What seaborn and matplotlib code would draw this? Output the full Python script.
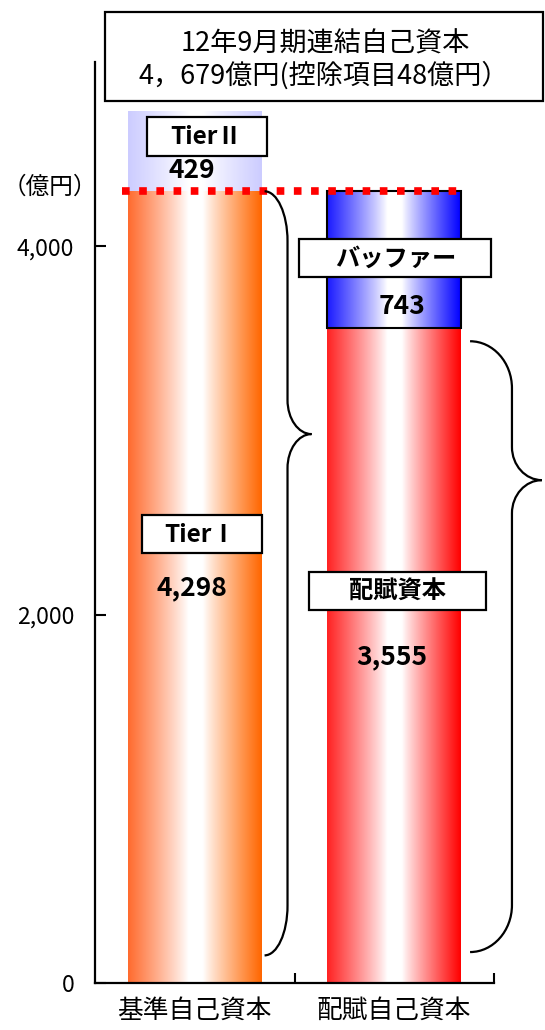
import numpy as np
import pandas as pd
import matplotlib
matplotlib.use("Agg")
import matplotlib.pyplot as plt
import seaborn as sns
from matplotlib.patches import Rectangle, PathPatch
from matplotlib.path import Path

# ---- data ---------------------------------------------------------------
categories = ["基準自己資本", "配賦自己資本"]
base_values = [4298, 3555]          # TierⅠ / 配賦資本
top_values = [429, 743]             # TierⅡ / バッファー
base_names = ["TierⅠ", "配賦資本"]
top_names = ["TierⅡ", "バッファー"]
y_ticks = [0, 2000, 4000]
title_lines = ["12年9月期連結自己資本", "4，679億円(控除項目48億円）"]
unit_label = "（億円）"

# ---- style --------------------------------------------------------------
sns.set_style("white")
plt.rcParams["font.family"] = ["Noto Sans CJK JP", "DejaVu Sans"]
plt.rcParams["text.color"] = "black"
plt.rcParams["xtick.color"] = "black"
plt.rcParams["ytick.color"] = "black"

W, H = 545, 1030
fig = plt.figure(figsize=(W / 100, H / 100), dpi=100)
ax = fig.add_axes([95 / W, 47 / H, (494 - 95) / W, (983 - 62) / H])


def fx(x):
    return x / W


def fy(y):
    return 1 - y / H


df = pd.DataFrame({"category": categories, "base": base_values, "top": top_values})

sns.barplot(data=df, x="category", y="base", width=0.67, errorbar=None,
            color="white", linewidth=0, ax=ax)
sns.barplot(data=df, x="category", y="top", bottom=df["base"].to_numpy(),
            width=0.67, errorbar=None, color="white", linewidth=0, ax=ax)

# horizontal gradients: edge colour -> white core -> edge colour
edge_colors = [
    ("#ff6b2e", "#ff6600"),   # TierⅠ
    ("#ff2222", "#ff0000"),   # 配賦資本
    ("#ccccff", "#ccccff"),   # TierⅡ
    ("#1a1aff", "#0000ff"),   # バッファー
]


def gradient(left, right, n=256):
    u = np.linspace(0, 1, n)
    wl = np.clip((0.45 - u) / 0.45, 0, 1) ** 0.9
    wr = np.clip((u - 0.56) / 0.44, 0, 1) ** 0.9
    cl = np.array(matplotlib.colors.to_rgb(left))
    cr = np.array(matplotlib.colors.to_rgb(right))
    img = np.ones((n, 3))
    img = img * (1 - wl - wr)[:, None] + wl[:, None] * cl + wr[:, None] * cr
    return img[None, :, :]


for patch, (cl, cr) in zip(ax.patches, edge_colors):
    x0, y0 = patch.get_x(), patch.get_y()
    w, h = patch.get_width(), patch.get_height()
    ax.imshow(gradient(cl, cr), extent=(x0, x0 + w, y0, y0 + h),
              aspect="auto", interpolation="bilinear", zorder=0.5)
    patch.set_facecolor("none")
    patch.set_edgecolor("none")

# outline around the buffer segment
ax.patches[3].set_edgecolor("black")
ax.patches[3].set_linewidth(1.5)

# dotted level of TierⅠ across both bars
ax.hlines(base_values[0], -0.365, 1.345, colors="#ff0000", linewidth=5.5,
          linestyles=(0, (1.0, 1.25)), zorder=3)


def brace(x0, x1, x2, ytop, ytip, ybot, r, rt):
    k = 0.55
    verts = [
        (x0, ytop),
        (x0 + k * (x1 - x0), ytop), (x1, ytop - (1 - k) * r), (x1, ytop - r),
        (x1, ytip + rt),
        (x1, ytip + rt * (1 - k)), (x2 - k * (x2 - x1), ytip), (x2, ytip),
        (x2 - k * (x2 - x1), ytip), (x1, ytip - rt * (1 - k)), (x1, ytip - rt),
        (x1, ybot + r),
        (x1, ybot + (1 - k) * r), (x0 + k * (x1 - x0), ybot), (x0, ybot),
    ]
    codes = [Path.MOVETO,
             Path.CURVE4, Path.CURVE4, Path.CURVE4,
             Path.LINETO,
             Path.CURVE4, Path.CURVE4, Path.CURVE4,
             Path.CURVE4, Path.CURVE4, Path.CURVE4,
             Path.LINETO,
             Path.CURVE4, Path.CURVE4, Path.CURVE4]
    ax.add_patch(PathPatch(Path(verts, codes), fc="none", ec="black",
                           lw=1.6, clip_on=False, zorder=4))


brace(0.35, 0.465, 0.585, base_values[0], 2980, 150, 270, 185)
brace(1.38, 1.59, 1.74, 3484, 2730, 168, 255, 180)

# axes
ax.set_xlim(-0.5, 1.5)
ax.set_ylim(0, 5000)
ax.set_xlabel("")
ax.set_ylabel("")
ax.set_yticks(y_ticks)
ax.set_yticklabels([f"{v:,}" for v in y_ticks])
ax.set_xticks([0, 1])
ax.set_xticklabels(categories)
ax.set_xticks([0.5, 1.5], minor=True)
ax.tick_params(axis="y", direction="in", length=8, width=1.5, pad=15,
               labelsize=16.5, left=True)
ax.tick_params(axis="x", which="major", length=0, pad=11, labelsize=18.5)
ax.tick_params(axis="x", which="minor", direction="in", length=7, width=1.5,
               bottom=True)
for side in ("top", "right"):
    ax.spines[side].set_visible(False)
for side in ("left", "bottom"):
    ax.spines[side].set_color("black")
    ax.spines[side].set_linewidth(1.6)

# title box
fig.add_artist(Rectangle((fx(105), fy(101)), (543 - 105) / W, (101 - 12) / H,
                         transform=fig.transFigure, fc="white", ec="black",
                         lw=1.6, zorder=5))
fig.text(fx(325), fy(44), title_lines[0], ha="center", va="center",
         fontsize=19.5, zorder=6)
fig.text(fx(324), fy(75), title_lines[1], ha="center", va="center",
         fontsize=19.5, zorder=6)

fig.text(fx(50), fy(187), unit_label, ha="center", va="center", fontsize=17)


def label_box(x0, y0, x1, y1, text, tx, ty, size=17.5):
    fig.add_artist(Rectangle((fx(x0), fy(y1)), (x1 - x0) / W, (y1 - y0) / H,
                             transform=fig.transFigure, fc="white", ec="black",
                             lw=1.6, zorder=5))
    fig.text(fx(tx), fy(ty), text, ha="center", va="center", fontsize=size,
             fontweight="bold", zorder=6)


label_box(147, 117, 267, 156, top_names[0], 206, 137)
label_box(142, 515, 262, 553, base_names[0], 200, 535)
label_box(309, 572, 486, 610, base_names[1], 397, 592)
label_box(299, 239, 491, 277, top_names[1], 396, 259)

value_pos = [((192, 170), top_values[0]), ((192, 588), base_values[0]),
             ((392, 657), base_values[1]), ((402, 306), top_values[1])]
for (tx, ty), v in value_pos:
    fig.text(fx(tx), fy(ty), f"{v:,}", ha="center", va="center", fontsize=19,
             fontweight="bold", zorder=6)

fig.savefig("out.png", dpi=100)
